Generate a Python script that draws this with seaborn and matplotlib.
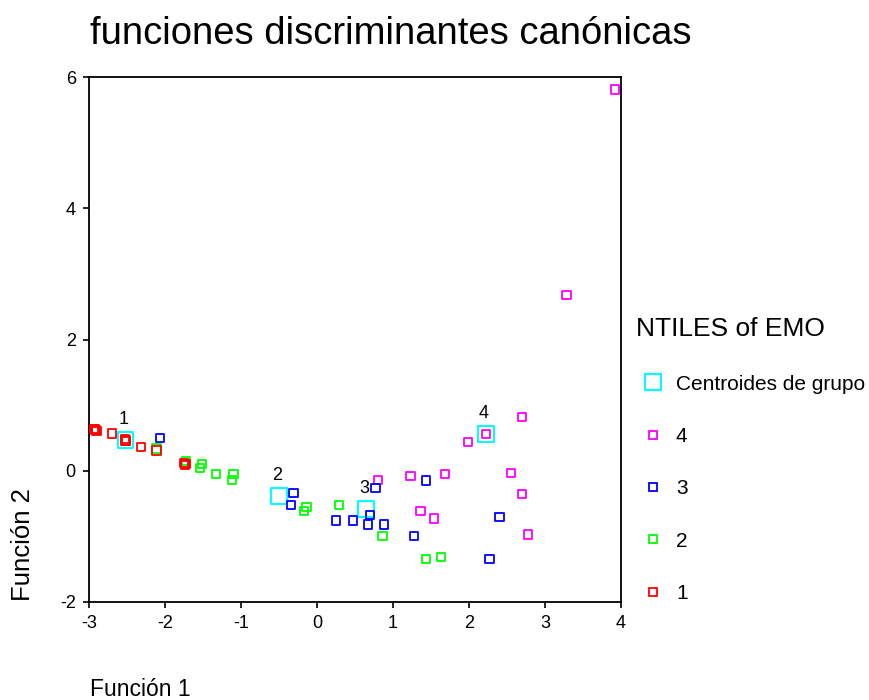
import matplotlib
matplotlib.use("Agg")
import matplotlib.pyplot as plt
from matplotlib.lines import Line2D
import numpy as np
import pandas as pd
import seaborn as sns

# Discriminant scores (Función 1, Función 2) per EMO quartile
g1_x = [-2.93, -2.91, -2.92, -2.70, -2.52, -2.53, -2.51, -2.32, -2.11, -1.73, -1.75, -1.74, -2.90]
g1_y = [0.64, 0.62, 0.63, 0.57, 0.46, 0.48, 0.45, 0.36, 0.31, 0.10, 0.12, 0.09, 0.61]
g2_x = [-2.11, -1.72, -1.51, -1.54, -1.33, -1.10, -1.12, -0.14, -0.17, 0.29, 0.86, 1.43, 1.63]
g2_y = [0.34, 0.15, 0.10, 0.04, -0.05, -0.05, -0.14, -0.55, -0.61, -0.52, -0.99, -1.34, -1.31]
g3_x = [-2.07, -0.31, -0.34, 0.25, 0.47, 0.70, 0.67, 0.88, 0.77, 1.43, 2.40, 1.28, 2.27]
g3_y = [0.50, -0.34, -0.52, -0.76, -0.76, -0.67, -0.82, -0.82, -0.26, -0.15, -0.70, -0.99, -1.34]
g4_x = [3.92, 3.285, 2.70, 2.22, 1.99, 0.80, 1.23, 1.68, 2.55, 2.70, 1.36, 1.54, 2.78]
g4_y = [5.81, 2.68, 0.82, 0.56, 0.44, -0.14, -0.08, -0.05, -0.03, -0.35, -0.61, -0.73, -0.97]

groups = ["4", "3", "2", "1"]
group_colors = ["#ff00ff", "#0000ff", "#00ff00", "#ff0000"]

centroid_labels = ["1", "2", "3", "4"]
centroid_x = [-2.52, -0.50, 0.645, 2.22]
centroid_y = [0.47, -0.38, -0.58, 0.56]

x_ticks = [-3, -2, -1, 0, 1, 2, 3, 4]
y_ticks = [-2, 0, 2, 4, 6]

title_text = "funciones discriminantes canónicas"
legend_title = "NTILES of EMO"
centroid_name = "Centroides de grupo"

# long-format table, group 1 last so it is drawn on top
cases = pd.DataFrame({
    "f1": g4_x + g3_x + g2_x + g1_x,
    "f2": g4_y + g3_y + g2_y + g1_y,
    "grupo": ["4"] * len(g4_x) + ["3"] * len(g3_x) + ["2"] * len(g2_x) + ["1"] * len(g1_x),
})
centroids = pd.DataFrame({"f1": centroid_x, "f2": centroid_y, "grupo": centroid_labels})

sns.set_theme(style="white")
plt.rcParams["font.family"] = ["Liberation Sans", "DejaVu Sans"]
plt.rcParams["text.color"] = "black"

W, H = 870, 700
fig = plt.figure(figsize=(W / 100, H / 100), dpi=100)
ax = fig.add_axes([89 / W, 1 - 602 / H, (621 - 89) / W, (602 - 77) / H])

sns.scatterplot(data=cases, x="f1", y="f2", hue="grupo", hue_order=groups,
                palette=group_colors, marker="s", s=36, linewidth=1.3,
                legend=False, ax=ax, zorder=3)
sns.scatterplot(data=centroids, x="f1", y="f2", color="#00ffff", marker="s",
                s=130, linewidth=1.5, legend=False, ax=ax, zorder=2)

# hollow squares: outline in the fill colour
for coll in ax.collections:
    fc = coll.get_facecolors()
    coll.set_edgecolors(fc)
    coll.set_facecolors("none")

for lab, cx, cy in zip(centroid_labels, centroid_x, centroid_y):
    ax.annotate(lab, (cx, cy), xytext=(-2, 20), textcoords="offset pixels",
                ha="center", va="center", fontsize=13, color="black")

ax.set_xlim(-3, 4)
ax.set_ylim(-2, 6)
ax.set_xticks(x_ticks)
ax.set_yticks(y_ticks)
ax.set_xticklabels([str(t) for t in x_ticks])
ax.set_yticklabels([str(t) for t in y_ticks])
ax.set_xlabel("")
ax.set_ylabel("")
ax.tick_params(axis="both", direction="out", length=4.5, width=1.2,
               labelsize=13, colors="black", pad=5,
               bottom=True, left=True, top=False, right=False)
for sp in ax.spines.values():
    sp.set_visible(True)
    sp.set_color("black")
    sp.set_linewidth(1.3)

fig.text(90 / W, 1 - 44 / H, title_text, ha="left", va="baseline", fontsize=27.5)
fig.text(90 / W, 1 - 696 / H, "Función 1", ha="left", va="baseline", fontsize=16.5)
fig.text(23 / W, 1 - 601 / H, "Función 2", ha="center", va="bottom",
         rotation=90, fontsize=18.5)

handles = [Line2D([], [], ls="none", marker="s", markersize=11.5, mfc="none",
                  mec="#00ffff", mew=1.5)]
labels = [centroid_name]
for g, c in zip(groups, group_colors):
    handles.append(Line2D([], [], ls="none", marker="s", markersize=6,
                          mfc="none", mec=c, mew=1.3))
    labels.append(g)
leg = fig.legend(handles, labels, title=legend_title, loc="upper left",
                 bbox_to_anchor=(628 / W, 1 - 309 / H), frameon=False,
                 fontsize=15, title_fontsize=19, labelspacing=1.6,
                 handlelength=1.6, handletextpad=0.3, borderaxespad=0)
leg._legend_box.align = "left"

fig.savefig("out.png", dpi=100, facecolor="white")
